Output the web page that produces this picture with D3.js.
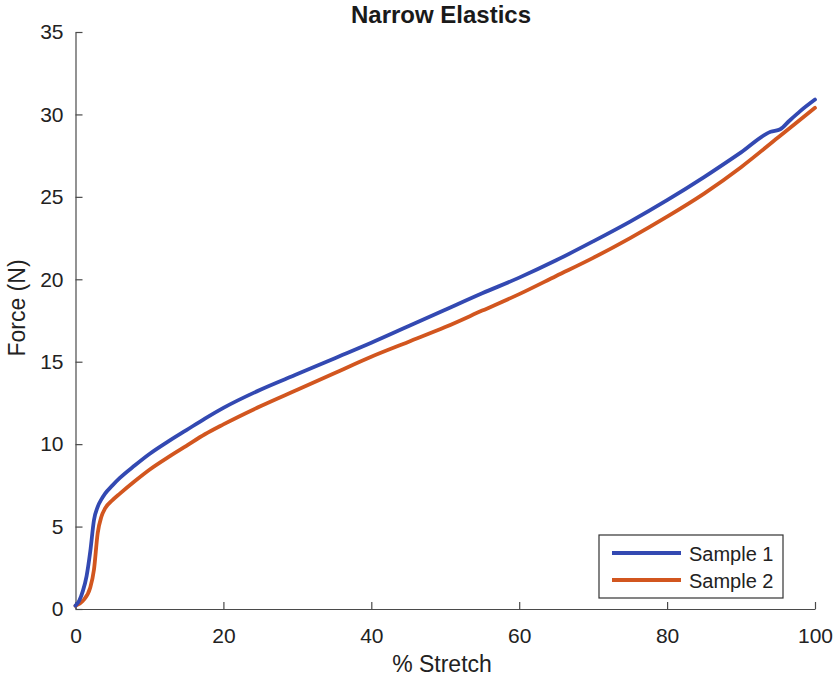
<!DOCTYPE html>
<html>
<head>
<meta charset="utf-8">
<script src="https://cdn.jsdelivr.net/npm/d3@7"></script>
<style>
  html, body { margin: 0; padding: 0; background: #fff; }
  svg { display: block; font-family: "Liberation Sans", Arial, Helvetica, sans-serif; }
</style>
</head>
<body>
<svg id="chart" width="835" height="679"></svg>
<script>
const title = "Narrow Elastics";
const xLabel = "% Stretch";
const yLabel = "Force (N)";
const seriesNames = ["Sample 1", "Sample 2"];
const xTicks = [0, 20, 40, 60, 80, 100];
const yTicks = [0, 5, 10, 15, 20, 25, 30, 35];

const stretch1 = [0, 0.5, 1, 1.5, 2, 2.5, 3, 3.5, 4, 5, 6, 8, 10, 12.5, 15, 17.5, 20, 25, 30, 35, 40, 45, 50, 55, 60, 65, 70, 75, 80, 85, 90, 94, 95.3, 96.5, 98, 100];
const force1   = [0.2, 0.5, 1.1, 2.0, 3.5, 5.4, 6.2, 6.65, 7.0, 7.5, 7.95, 8.7, 9.4, 10.15, 10.85, 11.55, 12.2, 13.3, 14.25, 15.2, 16.15, 17.15, 18.15, 19.15, 20.1, 21.15, 22.3, 23.5, 24.8, 26.2, 27.7, 28.95, 29.1, 29.6, 30.2, 30.9];

const stretch2 = [0, 1, 2, 2.5, 3, 3.5, 4, 5, 6, 8, 10, 12.5, 15, 17.5, 20, 25, 30, 35, 40, 45, 50, 55, 60, 65, 70, 75, 80, 85, 90, 95, 100];
const force2   = [0.2, 0.5, 1.3, 2.4, 4.6, 5.6, 6.1, 6.6, 7.0, 7.75, 8.45, 9.2, 9.9, 10.6, 11.2, 12.3, 13.3, 14.3, 15.3, 16.2, 17.1, 18.1, 19.1, 20.2, 21.3, 22.5, 23.8, 25.2, 26.8, 28.6, 30.4];

const colors = ["#3349b2", "#d2561f"];

const svg = d3.select("#chart");
const plotLeft = 75.5, plotRight = 815, plotTop = 32, plotBottom = 609;

const x = d3.scaleLinear().domain([0, 100]).range([plotLeft, plotRight]);
const y = d3.scaleLinear().domain([0, 35]).range([plotBottom, plotTop]);

const axisColor = "#4a4a4a";

// Axes
const gx = svg.append("g").attr("transform", `translate(0,${plotBottom})`)
  .call(d3.axisBottom(x).tickValues(xTicks).tickSizeInner(-7).tickSizeOuter(0).tickPadding(16).tickFormat(d3.format("d")));
const gy = svg.append("g").attr("transform", `translate(${plotLeft},0)`)
  .call(d3.axisLeft(y).tickValues(yTicks).tickSizeInner(-7).tickSizeOuter(0).tickPadding(12).tickFormat(d3.format("d")));

[gx, gy].forEach(g => {
  g.select(".domain").attr("stroke", axisColor).attr("stroke-width", 1.2);
  g.selectAll(".tick line").attr("stroke", axisColor).attr("stroke-width", 1.2);
  g.selectAll(".tick text").attr("fill", "#222").style("font-size", "21px")
    .style("font-family", "'Liberation Sans', Arial, sans-serif");
});
gx.selectAll(".tick text").attr("y", 0).attr("dy", "34px");
gy.selectAll(".tick text").attr("x", -12);

// Lines
const line = d3.line().x(d => x(d[0])).y(d => y(d[1])).curve(d3.curveMonotoneX);
const data = [
  d3.zip(stretch1, force1),
  d3.zip(stretch2, force2)
];
[1, 0].forEach(i => {
  svg.append("path").datum(data[i])
    .attr("fill", "none")
    .attr("stroke", colors[i])
    .attr("stroke-width", 3.8)
    .attr("stroke-linejoin", "round")
    .attr("stroke-linecap", "round")
    .attr("d", line);
});

// Title
svg.append("text").attr("x", 441).attr("y", 23)
  .attr("text-anchor", "middle").attr("fill", "#1a1a1a")
  .style("font-size", "24px").style("font-weight", "bold")
  .text(title);

// Axis labels
svg.append("text").attr("x", 442).attr("y", 672)
  .attr("text-anchor", "middle").attr("fill", "#222")
  .style("font-size", "23px").text(xLabel);
svg.append("text").attr("transform", "translate(25,308) rotate(-90)")
  .attr("text-anchor", "middle").attr("fill", "#222")
  .style("font-size", "23px").text(yLabel);

// Legend
const lg = svg.append("g");
lg.append("rect").attr("x", 599).attr("y", 535).attr("width", 184).attr("height", 63)
  .attr("fill", "#fff").attr("stroke", "#333").attr("stroke-width", 1.2);
seriesNames.forEach((name, i) => {
  const ly = 553 + i * 27;
  lg.append("line").attr("x1", 612).attr("x2", 681).attr("y1", ly).attr("y2", ly)
    .attr("stroke", colors[i]).attr("stroke-width", 3.8);
  lg.append("text").attr("x", 689).attr("y", ly + 8)
    .attr("fill", "#222").style("font-size", "20px").text(name);
});
</script>
</body>
</html>
